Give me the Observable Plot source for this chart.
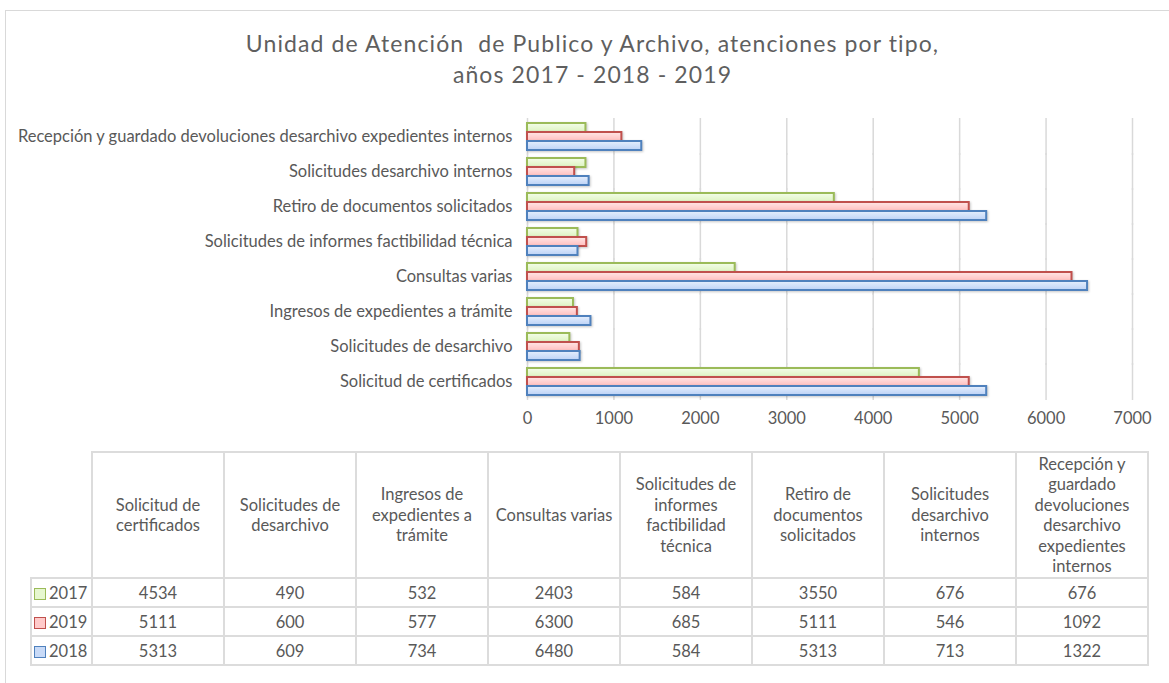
<!DOCTYPE html>
<html>
<head>
<meta charset="utf-8">
<script src="https://cdn.jsdelivr.net/npm/d3@7"></script>
<script src="https://cdn.jsdelivr.net/npm/@observablehq/plot@0.6"></script>
<style>
  html, body { margin: 0; padding: 0; background: #fff; overflow: hidden; }
  body { width: 1169px; height: 683px; position: relative; font-family: Lato, "Open Sans", sans-serif; color: #595959; }
  #frame { position: absolute; left: 5px; top: 10px; width: 1200px; height: 700px; border: 1px solid #d9d9d9; box-sizing: border-box; }
  #title { position: absolute; left: 5px; top: 28px; width: 1175px; text-align: center; font-size: 23px; letter-spacing: 1.1px; line-height: 31px; color: #5f5f5f; }
  #chart { position: absolute; left: 0; top: 100px; }
  #table { position: absolute; left: 30px; top: 451px; }
  table.dt { border-collapse: collapse; table-layout: fixed; width: 1119px; font-size: 16.5px; color: #595959; }
  table.dt td { border: 2px solid #dcdcdc; text-align: center; vertical-align: middle; padding: 0 3px; }
  table.dt tr.hdr td { height: 124px; line-height: 20.5px; white-space: pre-line; }
  table.dt tr.hdr td.corner { border-top: none; border-left: none; }
  table.dt tr.val td { height: 27px; line-height: 20px; }
  table.dt td.lab { text-align: left; padding-left: 2px; white-space: nowrap; }
  .sw { display: inline-block; width: 10px; height: 10px; border: 1.5px solid; margin-right: 3px; vertical-align: -1px; }
</style>
</head>
<body>
<svg width="0" height="0" style="position:absolute">
  <defs>
    <linearGradient id="g2017" x1="0" y1="0" x2="0" y2="1">
      <stop offset="0" stop-color="#f4fde9"/>
      <stop offset="1" stop-color="#dcf3c0"/>
    </linearGradient>
    <linearGradient id="g2019" x1="0" y1="0" x2="0" y2="1">
      <stop offset="0" stop-color="#ffe6e6"/>
      <stop offset="1" stop-color="#ffbdbd"/>
    </linearGradient>
    <linearGradient id="g2018" x1="0" y1="0" x2="0" y2="1">
      <stop offset="0" stop-color="#e6effd"/>
      <stop offset="1" stop-color="#bcd2f6"/>
    </linearGradient>
  </defs>
</svg>
<div id="frame"></div>
<div id="title">Unidad de Atención&nbsp; de Publico y Archivo, atenciones por tipo,<br>años 2017 - 2018 - 2019</div>
<div id="chart"></div>
<div id="table"></div>
<script>
// ---- data ----
const categories = [
  "Solicitud de certificados",
  "Solicitudes de desarchivo",
  "Ingresos de expedientes a trámite",
  "Consultas varias",
  "Solicitudes de informes factibilidad técnica",
  "Retiro de documentos solicitados",
  "Solicitudes desarchivo internos",
  "Recepción y guardado devoluciones desarchivo expedientes internos"
];
const tableHeaders = [
  "Solicitud de\ncertificados",
  "Solicitudes de\ndesarchivo",
  "Ingresos de\nexpedientes a\ntrámite",
  "Consultas varias",
  "Solicitudes de\ninformes\nfactibilidad\ntécnica",
  "Retiro de\ndocumentos\nsolicitados",
  "Solicitudes\ndesarchivo\ninternos",
  "Recepción y\nguardado\ndevoluciones\ndesarchivo\nexpedientes\ninternos"
];
const years = ["2017", "2019", "2018"];
const values2017 = [4534, 490, 532, 2403, 584, 3550, 676, 676];
const values2019 = [5111, 600, 577, 6300, 685, 5111, 546, 1092];
const values2018 = [5313, 609, 734, 6480, 584, 5313, 713, 1322];
const xTicks = [0, 1000, 2000, 3000, 4000, 5000, 6000, 7000];

// ---- styles (not data) ----
const strokeByYear = {"2017": "#9bbb59", "2019": "#c0504d", "2018": "#4f81bd"};
const swatchFill = {"2017": "#e6f7cf", "2019": "#ffcaca", "2018": "#c8daf7"};

const seriesByYear = {"2017": values2017, "2019": values2019, "2018": values2018};
const rows = years.flatMap(y => categories.map((c, i) => ({category: c, year: y, value: seriesByYear[y][i]})));

const chart = Plot.plot({
  width: 1169,
  height: 340,
  marginLeft: 527,
  marginRight: 37,
  marginTop: 18,
  marginBottom: 40,
  style: {fontFamily: "Lato, sans-serif", fontSize: "16.5px", color: "#595959", background: "transparent", overflow: "visible"},
  facet: {data: rows, y: "category"},
  fy: {domain: categories.slice().reverse(), paddingInner: 0.185, paddingOuter: 0.05, label: null, tickSize: 0, tickPadding: 15},
  y: {domain: years, padding: 0, axis: null},
  x: {domain: [0, 7000], ticks: xTicks, tickFormat: d3.format("d"), tickSize: 0, tickPadding: 16, label: null},
  marks: [
    Plot.ruleX(xTicks, {stroke: "#d9d9d9", strokeWidth: 1.5, insetTop: -4, insetBottom: -4}),
    ...years.map(yr => Plot.barX(rows, {
      filter: d => d.year === yr,
      x: "value", y: "year",
      fill: "url(#g" + yr + ")",
      stroke: strokeByYear[yr],
      strokeWidth: 2
    }))
  ]
});
chart.querySelectorAll('g[aria-label="bar"]').forEach(g => g.style.filter = "drop-shadow(1px 1.5px 1px rgba(0,0,0,0.22))");
document.getElementById("chart").appendChild(chart);

// ---- table ----
let html = '<table class="dt"><colgroup><col style="width:61px">' + categories.map(() => '<col>').join('') + '</colgroup>';
html += '<tr class="hdr"><td class="corner"></td>' + tableHeaders.map(h => '<td>' + h + '</td>').join('') + '</tr>';
years.forEach(yr => {
  html += '<tr class="val"><td class="lab"><span class="sw" style="border-color:' + strokeByYear[yr] + ';background:' + swatchFill[yr] + '"></span>' + yr + '</td>' +
    seriesByYear[yr].map(v => '<td>' + v + '</td>').join('') + '</tr>';
});
html += '</table>';
document.getElementById("table").innerHTML = html;
</script>
</body>
</html>
